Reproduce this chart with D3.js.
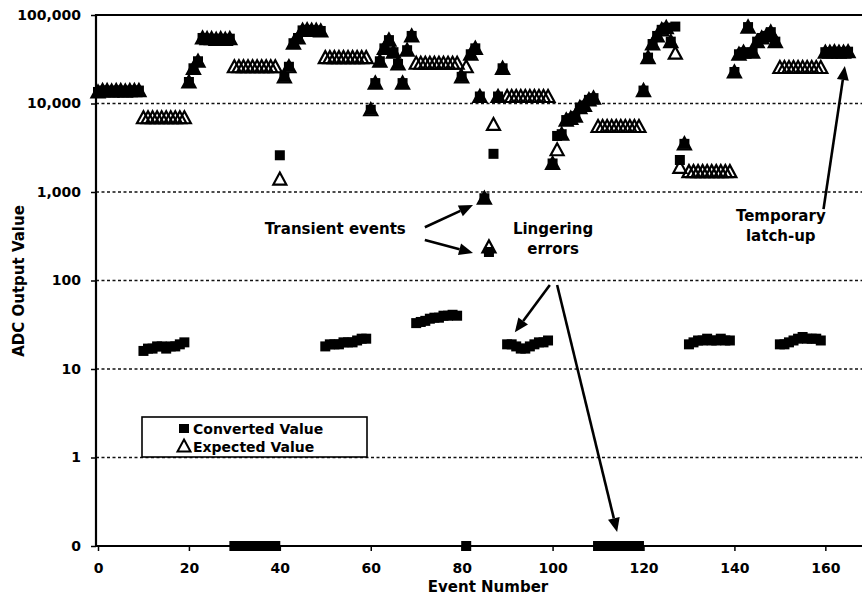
<!DOCTYPE html>
<html><head><meta charset="utf-8">
<script src="https://cdn.jsdelivr.net/npm/d3@7"></script>
<style>
body{margin:0;background:#fff;}
svg{display:block;font-family:"DejaVu Sans",sans-serif;font-weight:bold;}
</style></head><body>
<svg id="c" width="862" height="599"></svg>
<script>
// ---- data ----
const eventNumbers = d3.range(0, 166);
const converted = [
 13500,14000,14000,13800,14000,14000,13800,14000,14000,14000,
 16,17,17,18,18,17,18,18,19,20,
 17500,25000,30000,55000,54000,54000,53000,54000,53000,54000,
 0.1,0.1,0.1,0.1,0.1,0.1,0.1,0.1,0.1,0.1,
 2600,20000,26000,48000,55000,67000,68000,67000,67000,66000,
 18,19,19,19,20,20,20,21,22,22,
 8500,17000,30000,42000,52000,38000,28000,17000,40000,58000,
 33,34,35,37,38,38,40,40,41,40,
 20000,0.1,36000,42000,12000,850,210,2700,12000,25000,
 19,19,18,17,17,18,19,20,20,21,
 2100,4300,4500,6500,6800,7200,9000,9500,11000,11500,
 0.1,0.1,0.1,0.1,0.1,0.1,0.1,0.1,0.1,0.1,
 14000,33000,47000,58000,68000,72000,50000,74000,2300,3500,
 19,20,21,21,22,21,21,22,21,21,
 22700,36000,38000,73000,38000,50000,55000,58000,64000,50000,
 19,19,20,21,22,23,22,22,22,21,
 38000,38000,38500,38000,38000,38500
];
const expected = [
 13500,14000,14000,13800,14000,14000,13800,14000,14000,14000,
 6900,6900,6900,6900,6900,6900,6900,6900,6900,6900,
 17500,25000,30000,55000,54000,54000,53000,54000,53000,54000,
 26000,26000,26000,26000,26000,26000,26000,26000,26000,26000,
 1400,20000,26000,48000,55000,67000,68000,67000,67000,66000,
 33000,33000,33000,33000,33000,33000,33000,33000,33000,33000,
 8500,17000,30000,42000,52000,38000,28000,17000,40000,58000,
 28500,28500,28500,28500,28500,28500,28500,28500,28500,28500,
 20000,26000,36000,42000,12000,850,240,5800,12000,25000,
 12000,12000,12000,12000,12000,12000,12000,12000,12000,12000,
 2100,3000,4500,6500,6800,7200,9000,9500,11000,11500,
 5500,5500,5500,5500,5500,5500,5500,5500,5500,5500,
 14000,33000,47000,58000,68000,72000,50000,37000,1900,3500,
 1700,1700,1700,1700,1700,1700,1700,1700,1700,1700,
 22700,36000,38000,73000,38000,50000,55000,58000,64000,50000,
 25500,25500,25500,25500,25500,25500,25500,25500,25500,25500,
 38000,38000,38500,38000,38000,38500
];
const yTickValues = [0.1, 1, 10, 100, 1000, 10000, 100000];
const yTickLabels = ["0", "1", "10", "100", "1,000", "10,000", "100,000"];
const xTickValues = [0, 20, 40, 60, 80, 100, 120, 140, 160];
const xTickLabels = ["0", "20", "40", "60", "80", "100", "120", "140", "160"];
const gridValues = [1, 10, 100, 1000, 10000];
const seriesNames = ["Converted Value", "Expected Value"];
// annotations in data units: [event, value]
const arrows = [
 {from:[71.9, 400], to:[82.5, 713]},
 {from:[71.9, 287], to:[82.5, 205]},
 {from:[99.4, 89], to:[91.7, 26]},
 {from:[101, 89], to:[114.2, 0.144]},
 {from:[159.6, 640], to:[164.3, 26500]}
];
const notes = [
 {lines:["Transient events"], at:[52.2, 335]},
 {lines:["Lingering","errors"], at:[100.1, 335]},
 {lines:["Temporary","latch-up"], at:[150.2, 470]}
];

// ---- chart ----
const svg = d3.select("#c");
const W = 862, H = 599;
const x = d3.scaleLinear().domain([0, 168]).range([98, 861.7]);
const y = d3.scaleLog().domain([0.1, 100000]).range([546, 15]);

// gridlines
svg.append("g").selectAll("line").data(gridValues).join("line")
  .attr("x1", 96).attr("x2", W).attr("y1", d => y(d)).attr("y2", d => y(d))
  .attr("stroke", "#111").attr("stroke-width", 1.6).attr("stroke-dasharray", "3,2.5");

// frame lines
svg.append("line").attr("x1", 96).attr("x2", W).attr("y1", y(100000)).attr("y2", y(100000))
  .attr("stroke", "#000").attr("stroke-width", 2.2);
svg.append("line").attr("x1", 96).attr("x2", W).attr("y1", y(0.1)).attr("y2", y(0.1))
  .attr("stroke", "#000").attr("stroke-width", 2.2);
svg.append("line").attr("x1", 96).attr("x2", 96).attr("y1", y(100000) - 1).attr("y2", y(0.1) + 1)
  .attr("stroke", "#000").attr("stroke-width", 2.2);

// axes
const yAxis = d3.axisLeft(y).tickValues(yTickValues)
  .tickFormat((d, i) => yTickLabels[i]).tickSize(5).tickPadding(10).tickSizeOuter(0);
const gy = svg.append("g").attr("transform", "translate(96,0)").call(yAxis);
gy.select(".domain").remove();
gy.selectAll("line").attr("stroke", "#000").attr("stroke-width", 1.5);
gy.selectAll("text").attr("font-size", 14).attr("font-weight", "bold")
  .attr("font-family", "DejaVu Sans").attr("fill", "#000");

const xAxis = d3.axisBottom(x).tickValues(xTickValues)
  .tickFormat((d, i) => xTickLabels[i]).tickSize(5).tickPadding(12).tickSizeOuter(0);
const gx = svg.append("g").attr("transform", `translate(0,${y(0.1)})`).call(xAxis);
gx.select(".domain").remove();
gx.selectAll("line").attr("stroke", "#000").attr("stroke-width", 1.5);
gx.selectAll("text").attr("font-size", 14).attr("font-weight", "bold")
  .attr("font-family", "DejaVu Sans").attr("fill", "#000");

// axis titles
svg.append("text").attr("x", 488).attr("y", 592).attr("text-anchor", "middle")
  .attr("font-size", 15).text("Event Number");
svg.append("text").attr("transform", "translate(24,281) rotate(-90)").attr("text-anchor", "middle")
  .attr("font-size", 15).text("ADC Output Value");

// markers
const triPath = "M0,-6.5L6.5,5.5L-6.5,5.5Z";
const expData = eventNumbers.map((e, i) => ({e, v: expected[i]})).filter(d => d.v != null);
const convData = eventNumbers.map((e, i) => ({e, v: converted[i]})).filter(d => d.v != null);

svg.append("g").selectAll("path").data(expData).join("path")
  .attr("d", triPath)
  .attr("transform", d => `translate(${x(d.e)},${y(d.v)})`)
  .attr("fill", "none").attr("stroke", "#000").attr("stroke-width", 2.2)
  .attr("stroke-linejoin", "miter");

svg.append("g").selectAll("rect").data(convData).join("rect")
  .attr("x", d => x(d.e) - 5).attr("y", d => y(d.v) - 5)
  .attr("width", 10).attr("height", 10).attr("fill", "#000");

// annotations
function arrow(a) {
  const x1 = x(a.from[0]), y1 = y(a.from[1]), x2 = x(a.to[0]), y2 = y(a.to[1]);
  const ang = Math.atan2(y2 - y1, x2 - x1);
  const L = 14, hw = 6;
  const bx = x2 - L * Math.cos(ang), by = y2 - L * Math.sin(ang);
  svg.append("line").attr("x1", x1).attr("y1", y1).attr("x2", bx).attr("y2", by)
    .attr("stroke", "#000").attr("stroke-width", 2.6);
  const px = -Math.sin(ang) * hw, py = Math.cos(ang) * hw;
  svg.append("path")
    .attr("d", `M${x2},${y2}L${bx + px},${by + py}L${bx - px},${by - py}Z`)
    .attr("fill", "#000");
}
arrows.forEach(arrow);

notes.forEach(n => {
  const t = svg.append("text").attr("text-anchor", "middle").attr("font-size", 15);
  n.lines.forEach((ln, i) => {
    t.append("tspan").attr("x", x(n.at[0])).attr("y", y(n.at[1]) + i * 20).text(ln);
  });
});

// legend
const lg = svg.append("g");
lg.append("rect").attr("x", 142).attr("y", 417).attr("width", 225).attr("height", 40)
  .attr("fill", "#fff").attr("stroke", "#000").attr("stroke-width", 1.6);
lg.append("rect").attr("x", 179).attr("y", 424).attr("width", 10).attr("height", 9).attr("fill", "#000");
lg.append("path").attr("d", triPath).attr("transform", "translate(184,446)")
  .attr("fill", "none").attr("stroke", "#000").attr("stroke-width", 2);
lg.append("text").attr("x", 193).attr("y", 434).attr("font-size", 14).text(seriesNames[0]);
lg.append("text").attr("x", 193).attr("y", 452).attr("font-size", 14).text(seriesNames[1]);
</script>
</body></html>
